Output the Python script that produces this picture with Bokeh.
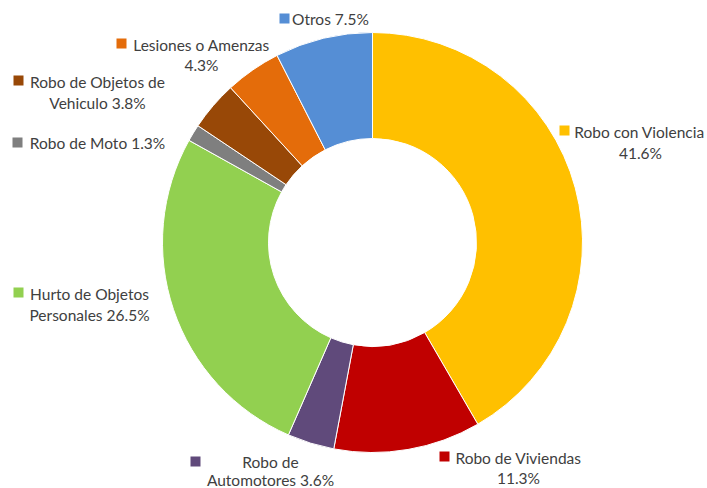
import math
from bokeh.plotting import figure
from bokeh.models import Range1d, ColumnDataSource
from bokeh.core.properties import value
from bokeh.embed import file_html
from bokeh.resources import INLINE

categories = ["Robo con Violencia", "Robo de Viviendas", "Robo de Automotores",
              "Hurto de Objetos Personales", "Robo de Moto",
              "Robo de Objetos de Vehiculo", "Lesiones o Amenzas", "Otros"]
percentages = [41.6, 11.3, 3.6, 26.5, 1.3, 3.8, 4.3, 7.5]
colors = ["#FFC000", "#C00000", "#604A7B", "#92D050", "#7F7F7F",
          "#984807", "#E46C0A", "#558ED5"]
label_lines = [
    ["Robo con Violencia", "41.6%"],
    ["Robo de Viviendas", "11.3%"],
    ["Robo de", "Automotores 3.6%"],
    ["Hurto de Objetos", "Personales 26.5%"],
    ["Robo de Moto 1.3%"],
    ["Robo de Objetos de", "Vehiculo 3.8%"],
    ["Lesiones o Amenzas", "4.3%"],
    ["Otros 7.5%"],
]

W, H = 707, 488
def Y(py):
    return H - py

# layout (page pixel positions)
cx, cy, r_out, r_in = 372, 242, 210, 104
key_pos = [(564, 130), (444, 456), (195, 461), (18, 292), (17, 142), (18, 80), (121, 43), (284, 18)]
text_pos = [
    [(639, 131), (640, 152)],
    [(518, 457), (518, 477)],
    [(270, 461), (270, 479)],
    [(89, 293), (89, 314)],
    [(97, 142)],
    [(97, 81), (97, 102)],
    [(201, 44), (201, 64)],
    [(330, 18)],
]

total = sum(percentages)
starts, ends = [], []
acc = 0.0
for v in percentages:
    a0 = math.pi / 2 - 2 * math.pi * acc / total
    acc += v
    a1 = math.pi / 2 - 2 * math.pi * acc / total
    starts.append(a1)
    ends.append(a0)

src = ColumnDataSource(dict(start=starts, end=ends, color=colors, cat=categories))

p = figure(width=W, height=H, output_backend="svg", toolbar_location=None,
           x_range=Range1d(0, W), y_range=Range1d(0, H), min_border=0)
p.axis.visible = False
p.grid.visible = False
p.outline_line_color = None
p.background_fill_color = "white"

p.annular_wedge(x=cx, y=Y(cy), inner_radius=r_in, outer_radius=r_out,
                start_angle="start", end_angle="end", color="color",
                line_color="white", line_width=1, source=src)

kx = [k[0] for k in key_pos]
ky = [Y(k[1]) for k in key_pos]
p.rect(x=kx, y=ky, width=10, height=10, color=colors, line_color=None)

tx, ty, tt = [], [], []
for lines, poss in zip(label_lines, text_pos):
    for t, (x, y) in zip(lines, poss):
        tx.append(x); ty.append(Y(y)); tt.append(t)
p.text(x=tx, y=ty, text=tt, text_align="center", text_baseline="middle",
       text_font=value("Lato"), text_font_size="15.5px", text_color="#404040")

open("out.html", "w").write(file_html(p, INLINE))
